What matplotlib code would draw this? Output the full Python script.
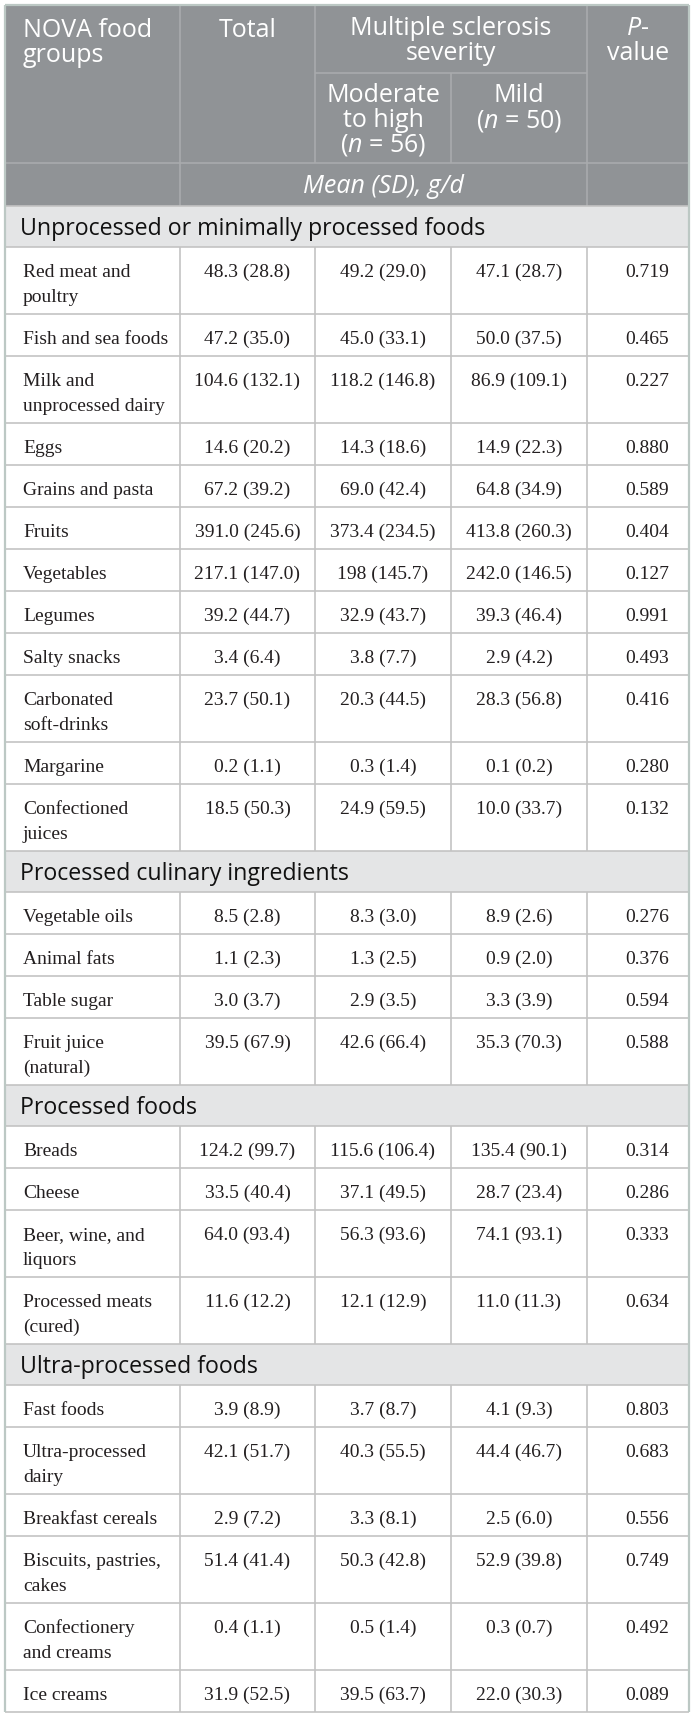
import matplotlib
matplotlib.use("Agg")
import matplotlib.pyplot as plt
from matplotlib.patches import Rectangle

# Datos de la tabla
sections = [
    "Unprocessed or minimally processed foods",
    "Processed culinary ingredients",
    "Processed foods",
    "Ultra-processed foods",
]
foods = [
    ["Red meat and\npoultry", "Fish and sea foods", "Milk and\nunprocessed dairy", "Eggs",
     "Grains and pasta", "Fruits", "Vegetables", "Legumes", "Salty snacks",
     "Carbonated\nsoft-drinks", "Margarine", "Confectioned\njuices"],
    ["Vegetable oils", "Animal fats", "Table sugar", "Fruit juice\n(natural)"],
    ["Breads", "Cheese", "Beer, wine, and\nliquors", "Processed meats\n(cured)"],
    ["Fast foods", "Ultra-processed\ndairy", "Breakfast cereals", "Biscuits, pastries,\ncakes",
     "Confectionery\nand creams", "Ice creams"],
]
total = [
    ["48.3 (28.8)", "47.2 (35.0)", "104.6 (132.1)", "14.6 (20.2)", "67.2 (39.2)", "391.0 (245.6)",
     "217.1 (147.0)", "39.2 (44.7)", "3.4 (6.4)", "23.7 (50.1)", "0.2 (1.1)", "18.5 (50.3)"],
    ["8.5 (2.8)", "1.1 (2.3)", "3.0 (3.7)", "39.5 (67.9)"],
    ["124.2 (99.7)", "33.5 (40.4)", "64.0 (93.4)", "11.6 (12.2)"],
    ["3.9 (8.9)", "42.1 (51.7)", "2.9 (7.2)", "51.4 (41.4)", "0.4 (1.1)", "31.9 (52.5)"],
]
mod_high = [
    ["49.2 (29.0)", "45.0 (33.1)", "118.2 (146.8)", "14.3 (18.6)", "69.0 (42.4)", "373.4 (234.5)",
     "198 (145.7)", "32.9 (43.7)", "3.8 (7.7)", "20.3 (44.5)", "0.3 (1.4)", "24.9 (59.5)"],
    ["8.3 (3.0)", "1.3 (2.5)", "2.9 (3.5)", "42.6 (66.4)"],
    ["115.6 (106.4)", "37.1 (49.5)", "56.3 (93.6)", "12.1 (12.9)"],
    ["3.7 (8.7)", "40.3 (55.5)", "3.3 (8.1)", "50.3 (42.8)", "0.5 (1.4)", "39.5 (63.7)"],
]
mild = [
    ["47.1 (28.7)", "50.0 (37.5)", "86.9 (109.1)", "14.9 (22.3)", "64.8 (34.9)", "413.8 (260.3)",
     "242.0 (146.5)", "39.3 (46.4)", "2.9 (4.2)", "28.3 (56.8)", "0.1 (0.2)", "10.0 (33.7)"],
    ["8.9 (2.6)", "0.9 (2.0)", "3.3 (3.9)", "35.3 (70.3)"],
    ["135.4 (90.1)", "28.7 (23.4)", "74.1 (93.1)", "11.0 (11.3)"],
    ["4.1 (9.3)", "44.4 (46.7)", "2.5 (6.0)", "52.9 (39.8)", "0.3 (0.7)", "22.0 (30.3)"],
]
pvals = [
    ["0.719", "0.465", "0.227", "0.880", "0.589", "0.404", "0.127", "0.991", "0.493",
     "0.416", "0.280", "0.132"],
    ["0.276", "0.376", "0.594", "0.588"],
    ["0.314", "0.286", "0.333", "0.634"],
    ["0.803", "0.683", "0.556", "0.749", "0.492", "0.089"],
]

# Estilo
W, H = 694, 1718
cols = [5, 180, 315, 451, 587, 689]
head_bg = "#909396"
head_line = "#a9abad"
sec_bg = "#e4e5e6"
grid = "#c3c3c3"
border = "#bcc8c4"
txt = "#231f20"
sans = ["Open Sans", "DejaVu Sans"]
serif = ["Liberation Serif", "DejaVu Serif"]
plt.rcParams["mathtext.fontset"] = "custom"
plt.rcParams["mathtext.rm"] = "Open Sans"
plt.rcParams["mathtext.it"] = "Open Sans:italic"

fig = plt.figure(figsize=(W / 100, H / 100), dpi=100)
ax = fig.add_axes([0, 0, 1, 1])
ax.set_xlim(0, W)
ax.set_ylim(H, 0)
ax.axis("off")

hs = 18      # tamaño fuente cabecera
bs = 14      # tamaño fuente cuerpo
ss = 16.7    # tamaño fuente secciones
lh = 25      # interlineado


def lines(x, y, s, ha="left", **kw):
    for i, t in enumerate(s.split("\n")):
        ax.text(x, y + i * lh, t, ha=ha, va="baseline", **kw)


def hline(y, x0, x1, c=grid, lw=1.2):
    ax.plot([x0, x1], [y, y], color=c, lw=lw, solid_capstyle="butt")


def vline(x, y0, y1, c=grid, lw=1.2):
    ax.plot([x, x], [y0, y1], color=c, lw=lw, solid_capstyle="butt")


# Cabecera
top, sub, mean_top, head_bot = 5, 73, 163, 206
ax.add_patch(Rectangle((cols[0], top), cols[-1] - cols[0], head_bot - top, color=head_bg, lw=0))
hline(sub, cols[2], cols[4], head_line)
hline(mean_top, cols[0], cols[-1], head_line)
vline(cols[1], top, head_bot, head_line)
vline(cols[2], top, mean_top, head_line)
vline(cols[3], sub, mean_top, head_line)
vline(cols[4], top, head_bot, head_line)

hk = dict(family=sans, size=hs, color="white")
lines(23, top + 32, "NOVA food\ngroups", **hk)
lines((cols[1] + cols[2]) / 2, top + 32, "Total", ha="center", **hk)
lines((cols[2] + cols[4]) / 2, top + 30, "Multiple sclerosis\nseverity", ha="center", **hk)
lines((cols[4] + cols[5]) / 2, top + 30, "$P$-\nvalue", ha="center", **hk)
lines((cols[2] + cols[3]) / 2, sub + 29, "Moderate\nto high\n($n$ = 56)", ha="center", **hk)
lines((cols[3] + cols[4]) / 2, sub + 29, "Mild\n($n$ = 50)", ha="center", **hk)
ax.text((cols[1] + cols[4]) / 2, mean_top + 30, "Mean (SD), g/d", ha="center", va="baseline",
        style="italic", **hk)

# Cuerpo
y = head_bot
for k, sec in enumerate(sections):
    ax.add_patch(Rectangle((cols[0], y), cols[-1] - cols[0], 41, color=sec_bg, lw=0))
    ax.text(20, y + 29, sec, ha="left", va="baseline", family=sans, size=ss, color="#111111")
    hline(y, cols[0], cols[-1])
    y += 41
    for j, name in enumerate(foods[k]):
        h = 17 + lh * len(name.split("\n"))
        hline(y, cols[0], cols[-1])
        for c in cols[1:-1]:
            vline(c, y, y + h)
        bk = dict(family=serif, size=bs, color=txt)
        lines(23, y + 30, name, **bk)
        lines((cols[1] + cols[2]) / 2, y + 30, total[k][j], ha="center", **bk)
        lines((cols[2] + cols[3]) / 2, y + 30, mod_high[k][j], ha="center", **bk)
        lines((cols[3] + cols[4]) / 2, y + 30, mild[k][j], ha="center", **bk)
        lines((cols[4] + cols[5]) / 2 + 9, y + 30, pvals[k][j], ha="center", **bk)
        y += h
hline(y, cols[0], cols[-1])

# Borde exterior
vline(cols[0], top, y, border, 1.6)
vline(cols[-1], top, y, border, 1.6)
hline(top, cols[0], cols[-1], border, 1.6)

fig.savefig("out.png", dpi=100)
